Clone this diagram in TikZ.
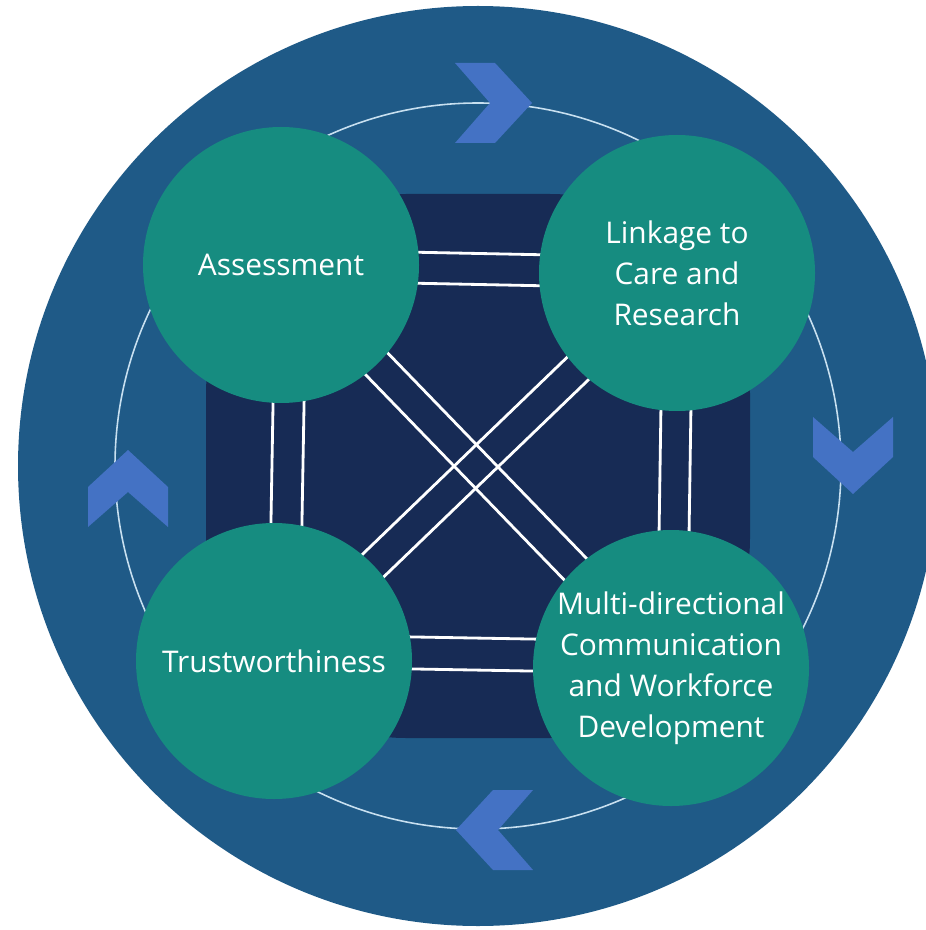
\documentclass[tikz,border=0pt]{standalone}
\usepackage{fontspec}
\setmainfont{Open Sans}
\usetikzlibrary{calc}
\pgfdeclarelayer{background}
\pgfsetlayers{background,main}

\definecolor{outerblue}{HTML}{1F5A87}
\definecolor{innernavy}{HTML}{172B55}
\definecolor{tealgreen}{HTML}{168C80}
\definecolor{chevblue}{HTML}{4472C4}
\definecolor{ringblue}{HTML}{C8E0F0}

\tikzset{
  pillar/.style={circle,fill=tealgreen,minimum size=5.52cm,inner sep=0pt,
    text=white,align=center,font=\fontsize{17}{23.3}\selectfont},
  tie/.style={white,line width=1.6pt},
  chevron/.pic={\fill[chevblue] (0,0) -- (-0.7,0.8) -- (0.1,0.8) -- (0.84,0)
    -- (0.1,-0.8) -- (-0.7,-0.8) -- cycle;}
}

\begin{document}
\begin{tikzpicture}
\useasboundingbox (0,0) rectangle (18.5,-18.6);
\coordinate (O) at (9.56,-9.32);

\node[pillar] (assess) at (5.62,-5.3) {Assessment};
\node[pillar] (link) at (13.54,-5.46) {Linkage to\\Care and\\Research};
\node[pillar] (trust) at (5.48,-13.22) {Trustworthiness};
\node[pillar] (comm) at (13.42,-13.36) {Multi-directional\\Communication\\and Workforce\\Development};

\begin{pgfonlayer}{background}
\fill[outerblue] (O) circle (9.2);
\fill[innernavy,rounded corners=4cm] (4.12,-3.88) rectangle (15.0,-14.76);
\draw[ringblue,line width=0.9pt] (O) circle (7.26);

% double ties between the pillars
\foreach \a/\b/\d in {assess/link/0.31cm, assess/link/-0.31cm,
    link/comm/-0.28cm, link/comm/0.32cm,
    trust/comm/0.53cm, trust/comm/-0.11cm,
    assess/trust/-0.11cm, assess/trust/0.51cm,
    assess/comm/0.31cm, assess/comm/-0.31cm,
    link/trust/0.31cm, link/trust/-0.31cm}
  \draw[tie] ($(\a)!\d!90:(\b)$) -- ($(\b)!\d!-90:(\a)$);
\end{pgfonlayer}

\pic at (9.8,-2.06) {chevron};
\pic[rotate=-90] at (17.06,-9.04) {chevron};
\pic[rotate=180] at (9.96,-16.6) {chevron};
\pic[rotate=90] at (2.56,-9.84) {chevron};
\end{tikzpicture}
\end{document}
